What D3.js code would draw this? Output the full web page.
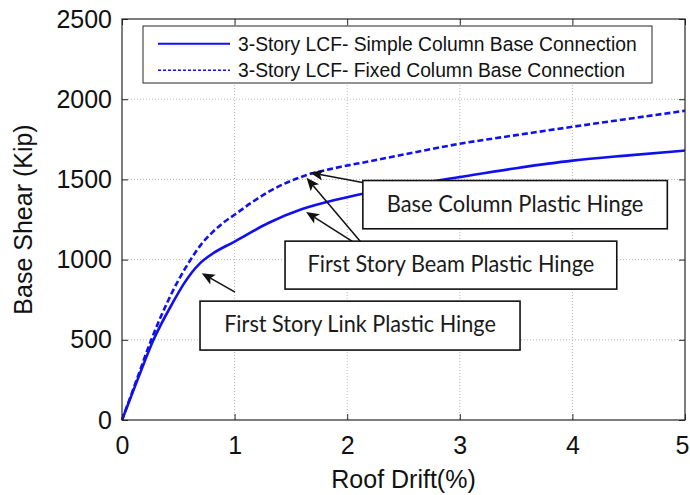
<!DOCTYPE html>
<html>
<head>
<meta charset="utf-8">
<script src="https://cdn.jsdelivr.net/npm/d3@7"></script>
<style>
  html, body { margin: 0; padding: 0; background: #fff; }
  svg { display: block; }
</style>
</head>
<body>
<svg id="chart" width="690" height="495"></svg>
<script>
// ---------------- DATA ----------------
const seriesNames = [
  "3-Story LCF- Simple Column Base Connection",
  "3-Story LCF- Fixed Column Base Connection"
];
// Roof drift (%) and base shear (kip)
const simpleDrift = [0, 0.14, 0.28, 0.45, 0.55, 0.62, 0.69, 0.8, 1.0, 1.3, 1.6, 1.9, 2.15, 2.5, 3.0, 3.5, 4.0, 4.5, 5.0];
const simpleShear = [0, 255, 500, 730, 850, 920, 975, 1035, 1112, 1228, 1315, 1373, 1412, 1458, 1515, 1570, 1617, 1650, 1680];
const fixedDrift  = [0, 0.13, 0.26, 0.4, 0.5, 0.61, 0.7, 0.8, 0.9, 1.0, 1.15, 1.3, 1.64, 1.9, 2.2, 2.5, 3.0, 3.5, 4.0, 4.5, 5.0];
const fixedShear  = [0, 250, 500, 730, 870, 1000, 1092, 1168, 1230, 1280, 1355, 1422, 1527, 1572, 1613, 1655, 1722, 1776, 1828, 1878, 1928];

const xTicks = [0, 1, 2, 3, 4, 5];
const yTicks = [0, 500, 1000, 1500, 2000, 2500];
const xLabel = "Roof Drift(%)";
const yLabel = "Base Shear (Kip)";

// annotation boxes (data coordinates: x0,x1 drift; yTop,yBottom shear)
const boxLabels = ["Base Column Plastic Hinge", "First Story Beam Plastic Hinge", "First Story Link Plastic Hinge"];
const boxX0 = [2.139, 1.448, 0.693];
const boxX1 = [4.843, 4.394, 3.535];
const boxYTop = [1493, 1115, 741];
const boxYBot = [1192, 816, 436];
// arrows: tail (on box) -> tip (on curve), data coordinates
const arrowFromX = [2.137, 2.045, 2.119, 1.004];
const arrowFromY = [1480, 1113, 1111, 797];
const arrowToX   = [1.671, 1.635, 1.639, 0.708];
const arrowToY   = [1542, 1297, 1510, 915];

// ---------------- CHART ----------------
const svg = d3.select("#chart");
const W = 690, H = 495;
const pL = 122, pR = 685, pT = 19, pB = 420;

svg.append("rect").attr("width", W).attr("height", H).attr("fill", "#fff");

const x = d3.scaleLinear().domain([0, 5]).range([pL, pR]);
const y = d3.scaleLinear().domain([0, 2500]).range([pB, pT]);

const axisFont = "'Liberation Sans', Arial, Helvetica, sans-serif";
const boxFont = "Lato, 'Open Sans', sans-serif";
const frameColor = "#262626";

// grid
const grid = svg.append("g");
grid.selectAll(".gx").data(xTicks.slice(1, -1)).enter().append("line")
  .attr("x1", d => x(d)).attr("x2", d => x(d)).attr("y1", pT).attr("y2", pB)
  .attr("stroke", "#b8b8b8").attr("stroke-width", 1).attr("stroke-dasharray", "1,2");
grid.selectAll(".gy").data(yTicks.slice(1, -1)).enter().append("line")
  .attr("y1", d => y(d)).attr("y2", d => y(d)).attr("x1", pL).attr("x2", pR)
  .attr("stroke", "#b8b8b8").attr("stroke-width", 1).attr("stroke-dasharray", "1,2");

// curves
const blue = "#1010ee";
const line = d3.line().x(d => x(d[0])).y(d => y(d[1])).curve(d3.curveMonotoneX);
const simpleData = simpleDrift.map((d, i) => [d, simpleShear[i]]);
const fixedData = fixedDrift.map((d, i) => [d, fixedShear[i]]);
svg.append("path").attr("d", line(simpleData)).attr("fill", "none")
  .attr("stroke", blue).attr("stroke-width", 2.6);
svg.append("path").attr("d", line(fixedData)).attr("fill", "none")
  .attr("stroke", blue).attr("stroke-width", 2.6).attr("stroke-dasharray", "6,3");

// axes (bottom & left with inward ticks, plus mirrored top & right)
const tickLen = 6;
const xAxis = d3.axisBottom(x).tickValues(xTicks).tickSize(-tickLen).tickPadding(14).tickFormat(d3.format("d"));
const yAxis = d3.axisLeft(y).tickValues(yTicks).tickSize(-tickLen).tickPadding(10).tickFormat(d3.format("d"));
const gx = svg.append("g").attr("transform", `translate(0,${pB})`).call(xAxis);
const gy = svg.append("g").attr("transform", `translate(${pL},0)`).call(yAxis);
const gxt = svg.append("g").attr("transform", `translate(0,${pT})`).call(d3.axisTop(x).tickValues(xTicks).tickSize(-tickLen).tickFormat(""));
const gyr = svg.append("g").attr("transform", `translate(${pR},0)`).call(d3.axisRight(y).tickValues(yTicks).tickSize(-tickLen).tickFormat(""));
[gx, gy, gxt, gyr].forEach(g => {
  g.select(".domain").remove();
  g.selectAll(".tick line").attr("stroke", frameColor).attr("stroke-width", 1);
  g.selectAll(".tick text").attr("fill", "#111").style("font-family", axisFont).style("font-size", "25px");
});
gx.selectAll(".tick text").attr("dy", "0.71em").attr("y", 16)
  .attr("dx", d => d === xTicks[xTicks.length - 1] ? -3 : 0);
svg.append("rect").attr("x", pL).attr("y", pT).attr("width", pR - pL).attr("height", pB - pT)
  .attr("fill", "none").attr("stroke", frameColor).attr("stroke-width", 1.2);

// axis labels
svg.append("text").attr("x", (pL + pR) / 2).attr("y", 488).attr("text-anchor", "middle")
  .style("font-family", axisFont).style("font-size", "25px").attr("fill", "#111").text(xLabel);
svg.append("text").attr("transform", `translate(32,${(pT + pB) / 2}) rotate(-90)`)
  .attr("text-anchor", "middle").style("font-family", axisFont).style("font-size", "25px")
  .attr("fill", "#111").text(yLabel);

// legend
const lg = svg.append("g");
lg.append("rect").attr("x", 143).attr("y", 26).attr("width", 509).attr("height", 57)
  .attr("fill", "#fff").attr("stroke", frameColor).attr("stroke-width", 1);
[0, 1].forEach(i => {
  const ly = 43.7 + i * 26.6;
  lg.append("line").attr("x1", 158).attr("x2", 230).attr("y1", ly).attr("y2", ly)
    .attr("stroke", blue).attr("stroke-width", i === 0 ? 2 : 1.6)
    .attr("stroke-dasharray", i === 0 ? null : "3,2");
  lg.append("text").attr("x", 238).attr("y", ly + 6.8)
    .style("font-family", axisFont).style("font-size", "19.3px").attr("fill", "#111")
    .text(seriesNames[i]);
});

// arrows
function arrow(x1, y1, x2, y2) {
  const ang = Math.atan2(y2 - y1, x2 - x1);
  const L = 13, Wd = 5.5, back = 10;
  const ux = Math.cos(ang), uy = Math.sin(ang);
  const px = -uy, py = ux;
  const bx = x2 - ux * L, by = y2 - uy * L;
  const ix = x2 - ux * back, iy = y2 - uy * back;
  svg.append("line").attr("x1", x1).attr("y1", y1).attr("x2", ix).attr("y2", iy)
    .attr("stroke", "#111").attr("stroke-width", 1.5);
  svg.append("path")
    .attr("d", `M${x2},${y2}L${bx + px * Wd},${by + py * Wd}L${ix},${iy}L${bx - px * Wd},${by - py * Wd}Z`)
    .attr("fill", "#111");
}
arrowFromX.forEach((d, i) => arrow(x(d), y(arrowFromY[i]), x(arrowToX[i]), y(arrowToY[i])));

// annotation boxes
const textWidths = [256.7, 286.7, 271.7];
boxLabels.forEach((t, i) => {
  const bx0 = x(boxX0[i]), bx1 = x(boxX1[i]);
  const by0 = y(boxYTop[i]), by1 = y(boxYBot[i]);
  svg.append("rect").attr("x", bx0).attr("y", by0).attr("width", bx1 - bx0).attr("height", by1 - by0)
    .attr("fill", "#fff").attr("stroke", "#111").attr("stroke-width", 1.6);
  svg.append("text").attr("x", (bx0 + bx1) / 2).attr("y", by0 + 31.2).attr("text-anchor", "middle")
    .style("font-family", boxFont).style("font-size", "23px").attr("fill", "#1a1a1a")
    .attr("textLength", textWidths[i]).attr("lengthAdjust", "spacingAndGlyphs")
    .text(t);
});
</script>
</body>
</html>
